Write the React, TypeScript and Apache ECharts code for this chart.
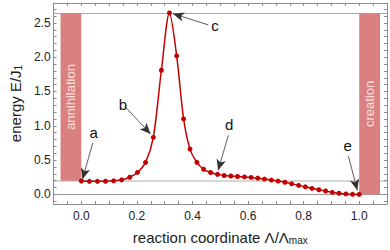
import React, { useEffect, useRef } from 'react';
import * as echarts from 'echarts';

// reaction coordinate Λ/Λmax of each image
const reactionCoord = [
  0, 0.029, 0.058, 0.087, 0.116, 0.145, 0.174, 0.202, 0.231, 0.259, 0.288, 0.317,
  0.343, 0.368, 0.391, 0.416, 0.44, 0.465, 0.49, 0.514, 0.538, 0.562,
  0.587, 0.611, 0.635, 0.659, 0.684, 0.708, 0.733, 0.757, 0.782, 0.806,
  0.83, 0.855, 0.879, 0.903, 0.927, 0.952, 0.976, 1.0,
];
// energy E/J1
const energy = [
  0.195, 0.19, 0.19, 0.192, 0.198, 0.212, 0.25, 0.32, 0.466, 0.83, 1.81, 2.645,
  2.02, 1.1, 0.66, 0.466, 0.366, 0.319, 0.292, 0.276, 0.268, 0.261,
  0.255, 0.247, 0.237, 0.223, 0.209, 0.194, 0.177, 0.154, 0.131, 0.11,
  0.087, 0.068, 0.049, 0.03, 0.017, 0.007, 0.001, 0.0,
];

const xTickLabels = [0, 0.2, 0.4, 0.6, 0.8, 1.0];
const xTicks = [
  -0.1, -0.05, 0, 0.05, 0.1, 0.15, 0.2, 0.25, 0.3, 0.35, 0.4, 0.45, 0.5, 0.55,
  0.6, 0.65, 0.7, 0.75, 0.8, 0.85, 0.9, 0.95, 1.0, 1.05, 1.1,
];
const yTickLabels = [0, 0.5, 1.0, 1.5, 2.0, 2.5];
const yTicks = [
  -0.1, 0, 0.1, 0.2, 0.3, 0.4, 0.5, 0.6, 0.7, 0.8, 0.9, 1.0, 1.1, 1.2, 1.3, 1.4,
  1.5, 1.6, 1.7, 1.8, 1.9, 2.0, 2.1, 2.2, 2.3, 2.4, 2.5, 2.6, 2.7,
];

// horizontal reference lines
const refLineValues = [0, 0.2, 2.64];
const refLineColors = ['#9a9a9a', '#d6d6d6', '#a8a8a8'];
const refLineWidths = [1, 2, 1];

// shaded bands
const bandNames = ['annihilation', 'creation'];
const bandX0 = [-0.075, 1.0];
const bandX1 = [0, 1.075];
const bandY0 = [0.2, 0];
const bandY1 = [2.64, 2.64];

// annotation arrows
const annLabels = ['a', 'b', 'c', 'd', 'e'];
const annFromX = [0.041, 0.157, 0.457, 0.529, 0.961];
const annFromY = [0.75, 1.28, 2.47, 0.861, 0.561];
const annToX = [0.004, 0.249, 0.33, 0.492, 0.993];
const annToY = [0.22, 0.88, 2.635, 0.35, 0.06];

const FONT = '"Liberation Sans", Arial, sans-serif';

export default function App() {
  const ref = useRef<HTMLDivElement>(null);

  useEffect(() => {
    if (!ref.current) return;
    const chart = echarts.init(ref.current, null, { renderer: 'svg' });

    const lineData = reactionCoord.map((x, i) => [x, energy[i]]);
    const bandData = bandNames.map((_, i) => [bandX0[i], bandX1[i], bandY0[i], bandY1[i]]);

    const axisLineStyle = { color: '#8c8c8c', width: 1 };
    const tickStyle = { color: '#8c8c8c', width: 1 };

    const option: any = {
      animation: false,
      textStyle: { fontFamily: FONT },
      grid: { left: 43, right: 3, top: 3, bottom: 42, containLabel: false },
      xAxis: [
        {
          type: 'value',
          position: 'bottom',
          min: -0.1,
          max: 1.1,
          axisLine: { show: true, onZero: false, lineStyle: axisLineStyle },
          axisTick: { show: true, inside: true, length: 3, customValues: xTicks, lineStyle: tickStyle },
          axisLabel: {
            show: true,
            customValues: xTickLabels,
            formatter: (v: number) => v.toFixed(1),
            color: '#222',
            fontSize: 12,
            fontFamily: FONT,
            margin: 6,
          },
          splitLine: { show: false },
          name: '{t|reaction coordinate Λ/Λ}{s|max}',
          nameLocation: 'middle',
          nameGap: 24,
          nameTextStyle: {
            rich: {
              t: { fontSize: 15, color: '#222', fontFamily: FONT, lineHeight: 17, verticalAlign: 'bottom' },
              s: { fontSize: 10, color: '#222', fontFamily: FONT, lineHeight: 8, verticalAlign: 'bottom' },
            },
          },
        },
        {
          type: 'value',
          position: 'top',
          min: -0.1,
          max: 1.1,
          axisLine: { show: true, onZero: false, lineStyle: axisLineStyle },
          axisTick: { show: true, inside: true, length: 3, customValues: xTicks, lineStyle: tickStyle },
          axisLabel: { show: false },
          splitLine: { show: false },
        },
      ],
      yAxis: [
        {
          type: 'value',
          position: 'left',
          min: -0.14,
          max: 2.79,
          axisLine: { show: true, onZero: false, lineStyle: axisLineStyle },
          axisTick: { show: true, inside: true, length: 3, customValues: yTicks, lineStyle: tickStyle },
          axisLabel: {
            show: true,
            customValues: yTickLabels,
            formatter: (v: number) => v.toFixed(1),
            color: '#222',
            fontSize: 12,
            fontFamily: FONT,
            margin: 3,
          },
          splitLine: { show: false },
          name: '{t|energy E/J}{s|1}',
          nameLocation: 'middle',
          nameGap: 26,
          nameRotate: 90,
          nameTextStyle: {
            rich: {
              t: { fontSize: 15, color: '#222', fontFamily: FONT, lineHeight: 17, verticalAlign: 'bottom' },
              s: { fontSize: 10, color: '#222', fontFamily: FONT, lineHeight: 8, verticalAlign: 'bottom' },
            },
          },
        },
        {
          type: 'value',
          position: 'right',
          min: -0.14,
          max: 2.79,
          axisLine: { show: true, onZero: false, lineStyle: axisLineStyle },
          axisTick: { show: true, inside: true, length: 3, customValues: yTicks, lineStyle: tickStyle },
          axisLabel: { show: false },
          splitLine: { show: false },
        },
      ],
      series: [
        {
          type: 'custom',
          name: 'bands',
          xAxisIndex: 0,
          yAxisIndex: 0,
          z: 1,
          silent: true,
          encode: { x: [0, 1], y: [2, 3] },
          data: bandData,
          renderItem: (params: any, api: any) => {
            const i = params.dataIndex;
            const p0 = api.coord([api.value(0), api.value(3)]);
            const p1 = api.coord([api.value(1), api.value(2)]);
            return {
              type: 'group',
              children: [
                {
                  type: 'rect',
                  shape: { x: p0[0], y: p0[1], width: p1[0] - p0[0], height: p1[1] - p0[1] },
                  style: { fill: '#da8080' },
                },
                {
                  type: 'text',
                  x: (p0[0] + p1[0]) / 2,
                  y: (p0[1] + p1[1]) / 2,
                  rotation: Math.PI / 2,
                  style: {
                    text: bandNames[i],
                    fill: 'rgba(255,236,236,0.9)',
                    font: `13px ${FONT}`,
                    align: 'center',
                    verticalAlign: 'middle',
                  },
                },
              ],
            };
          },
          markLine: {
            silent: true,
            symbol: 'none',
            label: { show: false },
            z: 0,
            data: refLineValues.map((v, i) => ({
              yAxis: v,
              lineStyle: { color: refLineColors[i], width: refLineWidths[i], type: 'solid' },
            })),
          },
        },
        {
          type: 'line',
          name: 'energy',
          xAxisIndex: 0,
          yAxisIndex: 0,
          z: 3,
          data: lineData,
          smooth: 0.3,
          symbol: 'circle',
          symbolSize: 5,
          showAllSymbol: true,
          itemStyle: { color: '#c30000' },
          lineStyle: { color: '#c30000', width: 1.5 },
          markLine: {
            silent: true,
            animation: false,
            lineStyle: { color: '#333', width: 0.8, type: 'solid' },
            label: {
              show: true,
              position: 'start',
              distance: 3,
              color: '#111',
              fontSize: 15,
              fontFamily: FONT,
            },
            data: annLabels.map((lab, i) => [
              { coord: [annFromX[i], annFromY[i]], symbol: 'none', label: { formatter: lab } },
              { coord: [annToX[i], annToY[i]], symbol: 'arrow', symbolSize: [7, 11] },
            ]),
          },
        },
      ],
    };

    chart.setOption(option);
    return () => chart.dispose();
  }, []);

  return (
    <div
      ref={ref}
      style={{ position: 'absolute', left: 0, top: 0, width: 390, height: 250, background: '#fff' }}
    />
  );
}
